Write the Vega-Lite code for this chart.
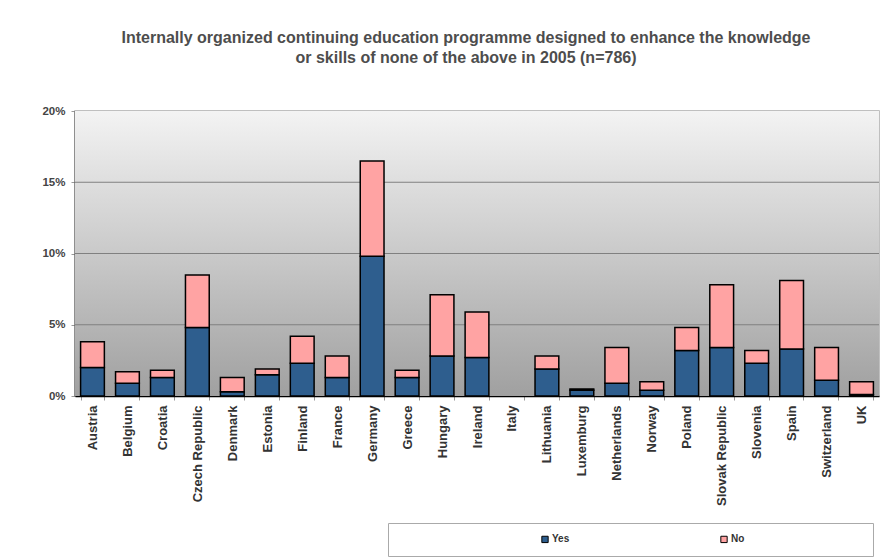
{
  "$schema": "https://vega.github.io/schema/vega-lite/v6.json",
  "width": 804,
  "height": 285,
  "autosize": {"type": "none"},
  "padding": {"left": 75, "top": 111, "right": 12, "bottom": 164},
  "background": "white",
  "title": {
    "text": ["Internally organized continuing education programme designed to enhance the knowledge", "or skills of none of the above in 2005 (n=786)"],
    "font": "Liberation Sans",
    "fontSize": 16,
    "fontWeight": "bold",
    "color": "#4d4d4d",
    "lineHeight": 20,
    "anchor": "middle",
    "dx": -11,
    "offset": 39
  },
  "config": {
    "view": {"stroke": "#aaaaaa", "strokeWidth": 1.5},
    "font": "Liberation Sans"
  },
  "layer": [
    {
      "data": {"values": [{"lo": 0, "hi": 20}]},
      "mark": {"type": "rect", "fill": {"gradient": "linear", "x1": 0, "y1": 0, "x2": 0, "y2": 1, "stops": [{"offset": 0, "color": "#f3f3f3"}, {"offset": 1, "color": "#a0a0a0"}]}},
      "encoding": {
        "y": {"field": "lo", "type": "quantitative"},
        "y2": {"field": "hi"}
      }
    },
    {
      "data": {"values": [{"g": 5}, {"g": 10}, {"g": 15}]},
      "mark": {"type": "rule", "color": "#808080", "strokeWidth": 1.2},
      "encoding": {
        "y": {"field": "g", "type": "quantitative"}
      }
    },
    {
      "data": {
        "values": [
          {"country": "Austria", "answer": "Yes", "value": 2.0}, {"country": "Austria", "answer": "No", "value": 1.8},
          {"country": "Belgium", "answer": "Yes", "value": 0.9}, {"country": "Belgium", "answer": "No", "value": 0.8},
          {"country": "Croatia", "answer": "Yes", "value": 1.3}, {"country": "Croatia", "answer": "No", "value": 0.5},
          {"country": "Czech Republic", "answer": "Yes", "value": 4.8}, {"country": "Czech Republic", "answer": "No", "value": 3.7},
          {"country": "Denmark", "answer": "Yes", "value": 0.3}, {"country": "Denmark", "answer": "No", "value": 1.0},
          {"country": "Estonia", "answer": "Yes", "value": 1.5}, {"country": "Estonia", "answer": "No", "value": 0.4},
          {"country": "Finland", "answer": "Yes", "value": 2.3}, {"country": "Finland", "answer": "No", "value": 1.9},
          {"country": "France", "answer": "Yes", "value": 1.3}, {"country": "France", "answer": "No", "value": 1.5},
          {"country": "Germany", "answer": "Yes", "value": 9.8}, {"country": "Germany", "answer": "No", "value": 6.7},
          {"country": "Greece", "answer": "Yes", "value": 1.3}, {"country": "Greece", "answer": "No", "value": 0.5},
          {"country": "Hungary", "answer": "Yes", "value": 2.8}, {"country": "Hungary", "answer": "No", "value": 4.3},
          {"country": "Ireland", "answer": "Yes", "value": 2.7}, {"country": "Ireland", "answer": "No", "value": 3.2},
          {"country": "Italy", "answer": "Yes", "value": 0}, {"country": "Italy", "answer": "No", "value": 0},
          {"country": "Lithuania", "answer": "Yes", "value": 1.9}, {"country": "Lithuania", "answer": "No", "value": 0.9},
          {"country": "Luxemburg", "answer": "Yes", "value": 0.4}, {"country": "Luxemburg", "answer": "No", "value": 0.1},
          {"country": "Netherlands", "answer": "Yes", "value": 0.9}, {"country": "Netherlands", "answer": "No", "value": 2.5},
          {"country": "Norway", "answer": "Yes", "value": 0.4}, {"country": "Norway", "answer": "No", "value": 0.6},
          {"country": "Poland", "answer": "Yes", "value": 3.2}, {"country": "Poland", "answer": "No", "value": 1.6},
          {"country": "Slovak Republic", "answer": "Yes", "value": 3.4}, {"country": "Slovak Republic", "answer": "No", "value": 4.4},
          {"country": "Slovenia", "answer": "Yes", "value": 2.3}, {"country": "Slovenia", "answer": "No", "value": 0.9},
          {"country": "Spain", "answer": "Yes", "value": 3.3}, {"country": "Spain", "answer": "No", "value": 4.8},
          {"country": "Switzerland", "answer": "Yes", "value": 1.1}, {"country": "Switzerland", "answer": "No", "value": 2.3},
          {"country": "UK", "answer": "Yes", "value": 0.1}, {"country": "UK", "answer": "No", "value": 0.9}
        ]
      },
      "transform": [{"filter": "datum.value > 0"}],
      "mark": {"type": "bar", "stroke": "black", "strokeWidth": 1.5},
      "encoding": {
        "x": {
          "field": "country",
          "type": "nominal",
          "sort": null,
          "scale": {"domain": ["Austria", "Belgium", "Croatia", "Czech Republic", "Denmark", "Estonia", "Finland", "France", "Germany", "Greece", "Hungary", "Ireland", "Italy", "Lithuania", "Luxemburg", "Netherlands", "Norway", "Poland", "Slovak Republic", "Slovenia", "Spain", "Switzerland", "UK"], "paddingInner": 0.32, "paddingOuter": 0.16},
          "axis": {
            "title": null,
            "labelAngle": -90,
            "labelAlign": "right",
            "labelBaseline": "middle",
            "labelFont": "Liberation Sans",
            "labelFontSize": 13,
            "labelFontWeight": "bold",
            "labelColor": "#333333",
            "labelPadding": 5,
            "tickBand": "extent",
            "tickColor": "#999999",
            "tickSize": 4,
            "domainColor": "black",
            "domainWidth": 1.5
          }
        },
        "y": {
          "field": "value",
          "type": "quantitative",
          "stack": "zero",
          "scale": {"domain": [0, 20], "nice": false},
          "axis": {
            "title": null,
            "values": [0, 5, 10, 15, 20],
            "labelExpr": "datum.value + '%'",
            "labelFont": "Liberation Sans",
            "labelFontSize": 11.5,
            "labelFontWeight": "bold",
            "labelColor": "#444444",
            "labelPadding": 6,
            "tickColor": "#999999",
            "tickSize": 4,
            "domainColor": "black",
            "domainWidth": 1.5,
            "grid": false
          }
        },
        "color": {
          "field": "answer",
          "type": "nominal",
          "scale": {"domain": ["Yes", "No"], "range": ["#2e5e8e", "#ffa3a3"]},
          "legend": {
            "title": "\u00a0",
            "titleOrient": "right",
            "titlePadding": 118,
            "titleFontSize": 10,
            "orient": "none",
            "legendX": 313,
            "legendY": 412,
            "direction": "horizontal",
            "strokeColor": "#aaaaaa",
            "padding": 11,
            "symbolType": "square",
            "symbolSize": 40,
            "symbolStrokeColor": "black",
            "symbolStrokeWidth": 1,
            "symbolOffset": 141,
            "columnPadding": 8,
            "labelFont": "Liberation Sans",
            "labelFontSize": 10,
            "labelFontWeight": "bold",
            "labelColor": "#333333",
            "labelOffset": 2
          }
        },
        "order": {"field": "answer", "sort": "descending"}
      }
    }
  ]
}
